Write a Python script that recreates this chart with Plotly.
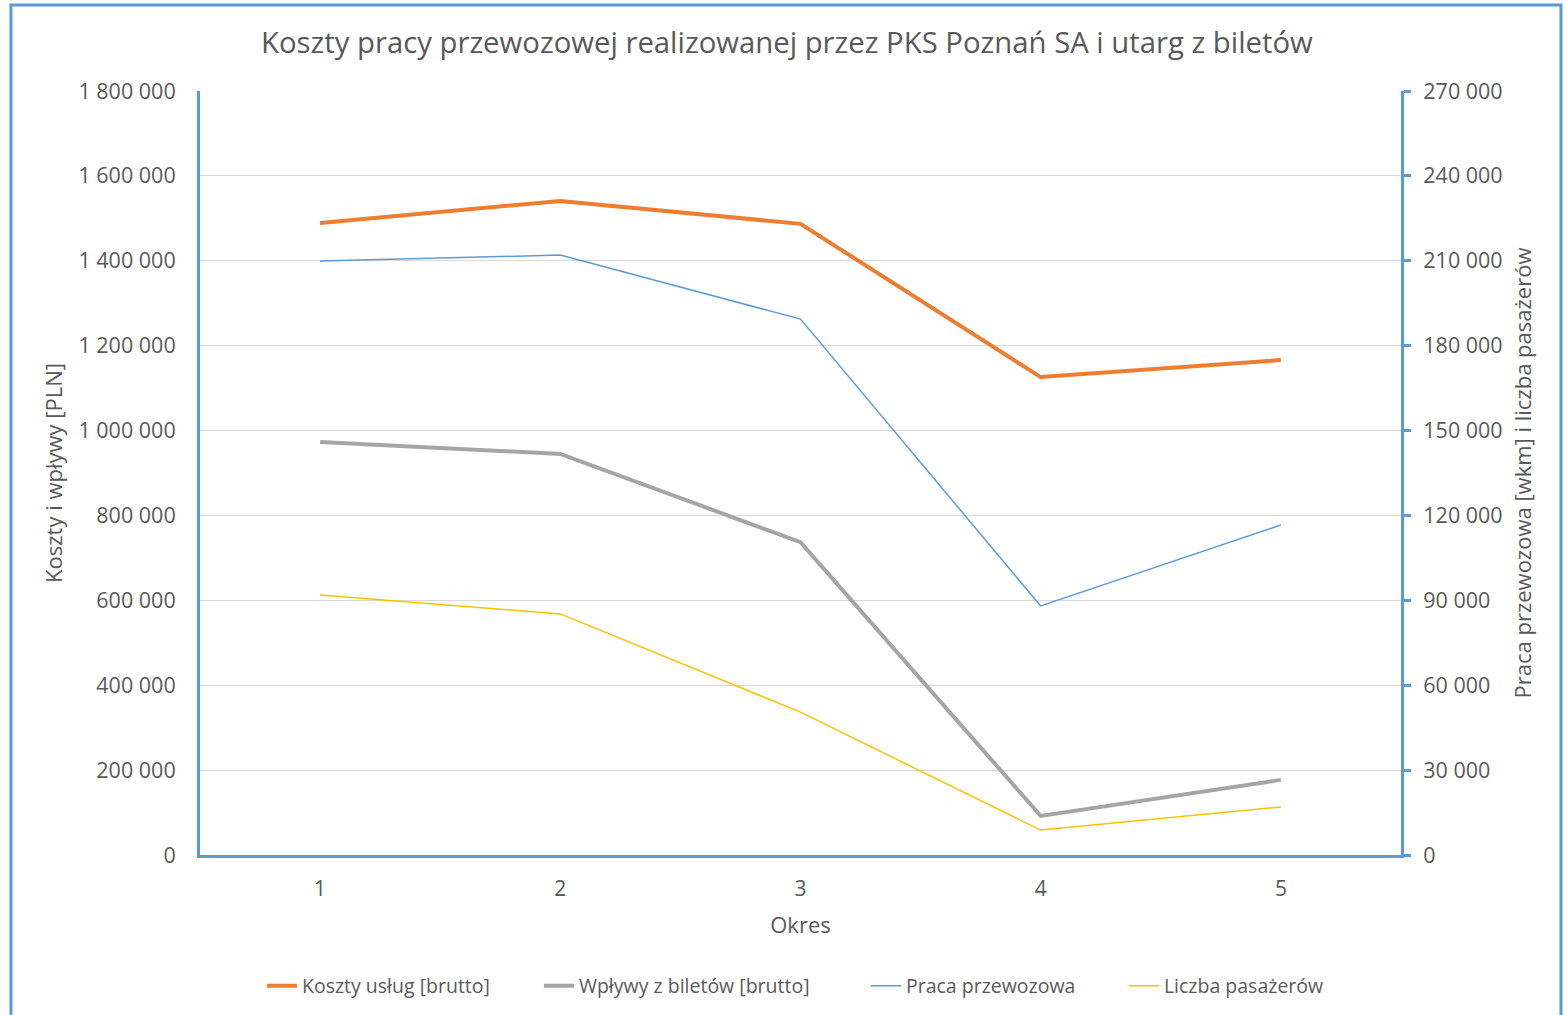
import plotly.graph_objects as go

okres = [1, 2, 3, 4, 5]
okres_labels = ["1", "2", "3", "4", "5"]
koszty = [1489000, 1541000, 1487000, 1126000, 1166000]
wplywy = [973000, 945000, 737000, 92000, 177000]
praca = [209900, 212000, 189400, 88000, 116600]
pasazerowie = [91900, 85200, 50500, 8800, 17000]

left_ticks = list(range(0, 1800001, 200000))
right_ticks = list(range(0, 270001, 30000))
boundaries = [0.5, 1.5, 2.5, 3.5, 4.5, 5.5]

FONT = "Open Sans"
TXT = "#595959"
AX = "#5B9BD5"

fig = go.Figure()
fig.add_trace(go.Scatter(x=okres, y=koszty, name="Koszty usług [brutto]", mode="lines",
                         line=dict(color="#ED7D31", width=4), yaxis="y", legend="legend"))
fig.add_trace(go.Scatter(x=okres, y=wplywy, name="Wpływy z biletów [brutto]", mode="lines",
                         line=dict(color="#A5A5A5", width=4), yaxis="y", legend="legend2"))
fig.add_trace(go.Scatter(x=okres, y=praca, name="Praca przewozowa", mode="lines",
                         line=dict(color="#5B9BD5", width=1.5), yaxis="y2", legend="legend3"))
fig.add_trace(go.Scatter(x=okres, y=pasazerowie, name="Liczba pasażerów", mode="lines",
                         line=dict(color="#FFC000", width=1.5), yaxis="y2", legend="legend4"))

leg_common = dict(orientation="h", xanchor="left", yref="container", y=0.0286, yanchor="middle",
                  font=dict(size=19.5, color=TXT, family=FONT), bgcolor="rgba(0,0,0,0)")
dx = 0.0083

fig.update_layout(
    width=1566, height=1015,
    margin=dict(l=200, r=165, t=91, b=160, autoexpand=False),
    paper_bgcolor="white", plot_bgcolor="white",
    separators=", ",
    font=dict(family=FONT, color=TXT, size=18),
    title=dict(text="Koszty pracy przewozowej realizowanej przez PKS Poznań SA i utarg z biletów",
               x=0.5025, xanchor="center", y=0.958, yanchor="middle",
               font=dict(size=29.3, color=TXT, family=FONT)),
    xaxis=dict(range=[0.5, 5.5], tickvals=okres, ticktext=okres_labels, ticks="",
               showgrid=False, zeroline=False, showline=True, linecolor=AX, linewidth=3,
               ticklabelstandoff=13, automargin=False,
               title=dict(text="Okres", font=dict(size=22), standoff=17),
               tickfont=dict(size=21), fixedrange=True),
    xaxis2=dict(range=[0.5, 5.5], overlaying="x", anchor="y", side="bottom", automargin=False,
                tickvals=boundaries, ticks="outside", ticklen=7, tickwidth=3, tickcolor=AX,
                showticklabels=False, showgrid=False, zeroline=False, showline=False),
    xaxis3=dict(range=[0.5, 5.5], overlaying="x", anchor="y", side="bottom", automargin=False,
                tickvals=boundaries, ticks="inside", ticklen=7, tickwidth=3, tickcolor=AX,
                showticklabels=False, showgrid=False, zeroline=False, showline=False),
    yaxis=dict(range=[0, 1800000], tickvals=left_ticks, tickformat=",d", automargin=False,
               showgrid=True, gridcolor="#D9D9D9", gridwidth=1, zeroline=False,
               showline=True, linecolor=AX, linewidth=3, ticks="", ticklen=0,
               tickfont=dict(size=21.5), ticklabelstandoff=17,
               title=dict(text="Koszty i wpływy [PLN]", font=dict(size=22), standoff=10)),
    yaxis2=dict(range=[0, 270000], tickvals=right_ticks, tickformat=",d", overlaying="y",
                side="right", anchor="x", showgrid=False, zeroline=False, automargin=False,
                showline=True, linecolor=AX, linewidth=3, ticks="outside", ticklen=7,
                tickwidth=3, tickcolor=AX, tickfont=dict(size=21.5), ticklabelstandoff=8,
                title=dict(text="Praca przewozowa [wkm] i liczba pasażerów", font=dict(size=22),
                           standoff=14)),
    legend=dict(x=0.0433 + dx, **leg_common),
    legend2=dict(x=0.2739 + dx, **leg_common),
    legend3=dict(x=0.5462 + dx, **leg_common),
    legend4=dict(x=0.7610 + dx, **leg_common),
    showlegend=True,
    shapes=[dict(type="rect", xref="paper", yref="paper", x0=-0.1574, x1=1.1332,
                 y0=-0.22, y1=1.1126, line=dict(color=AX, width=3), layer="below")],
)

fig.write_html("out.html", config={"displayModeBar": False},
               post_script="document.body.style.margin='0';")
